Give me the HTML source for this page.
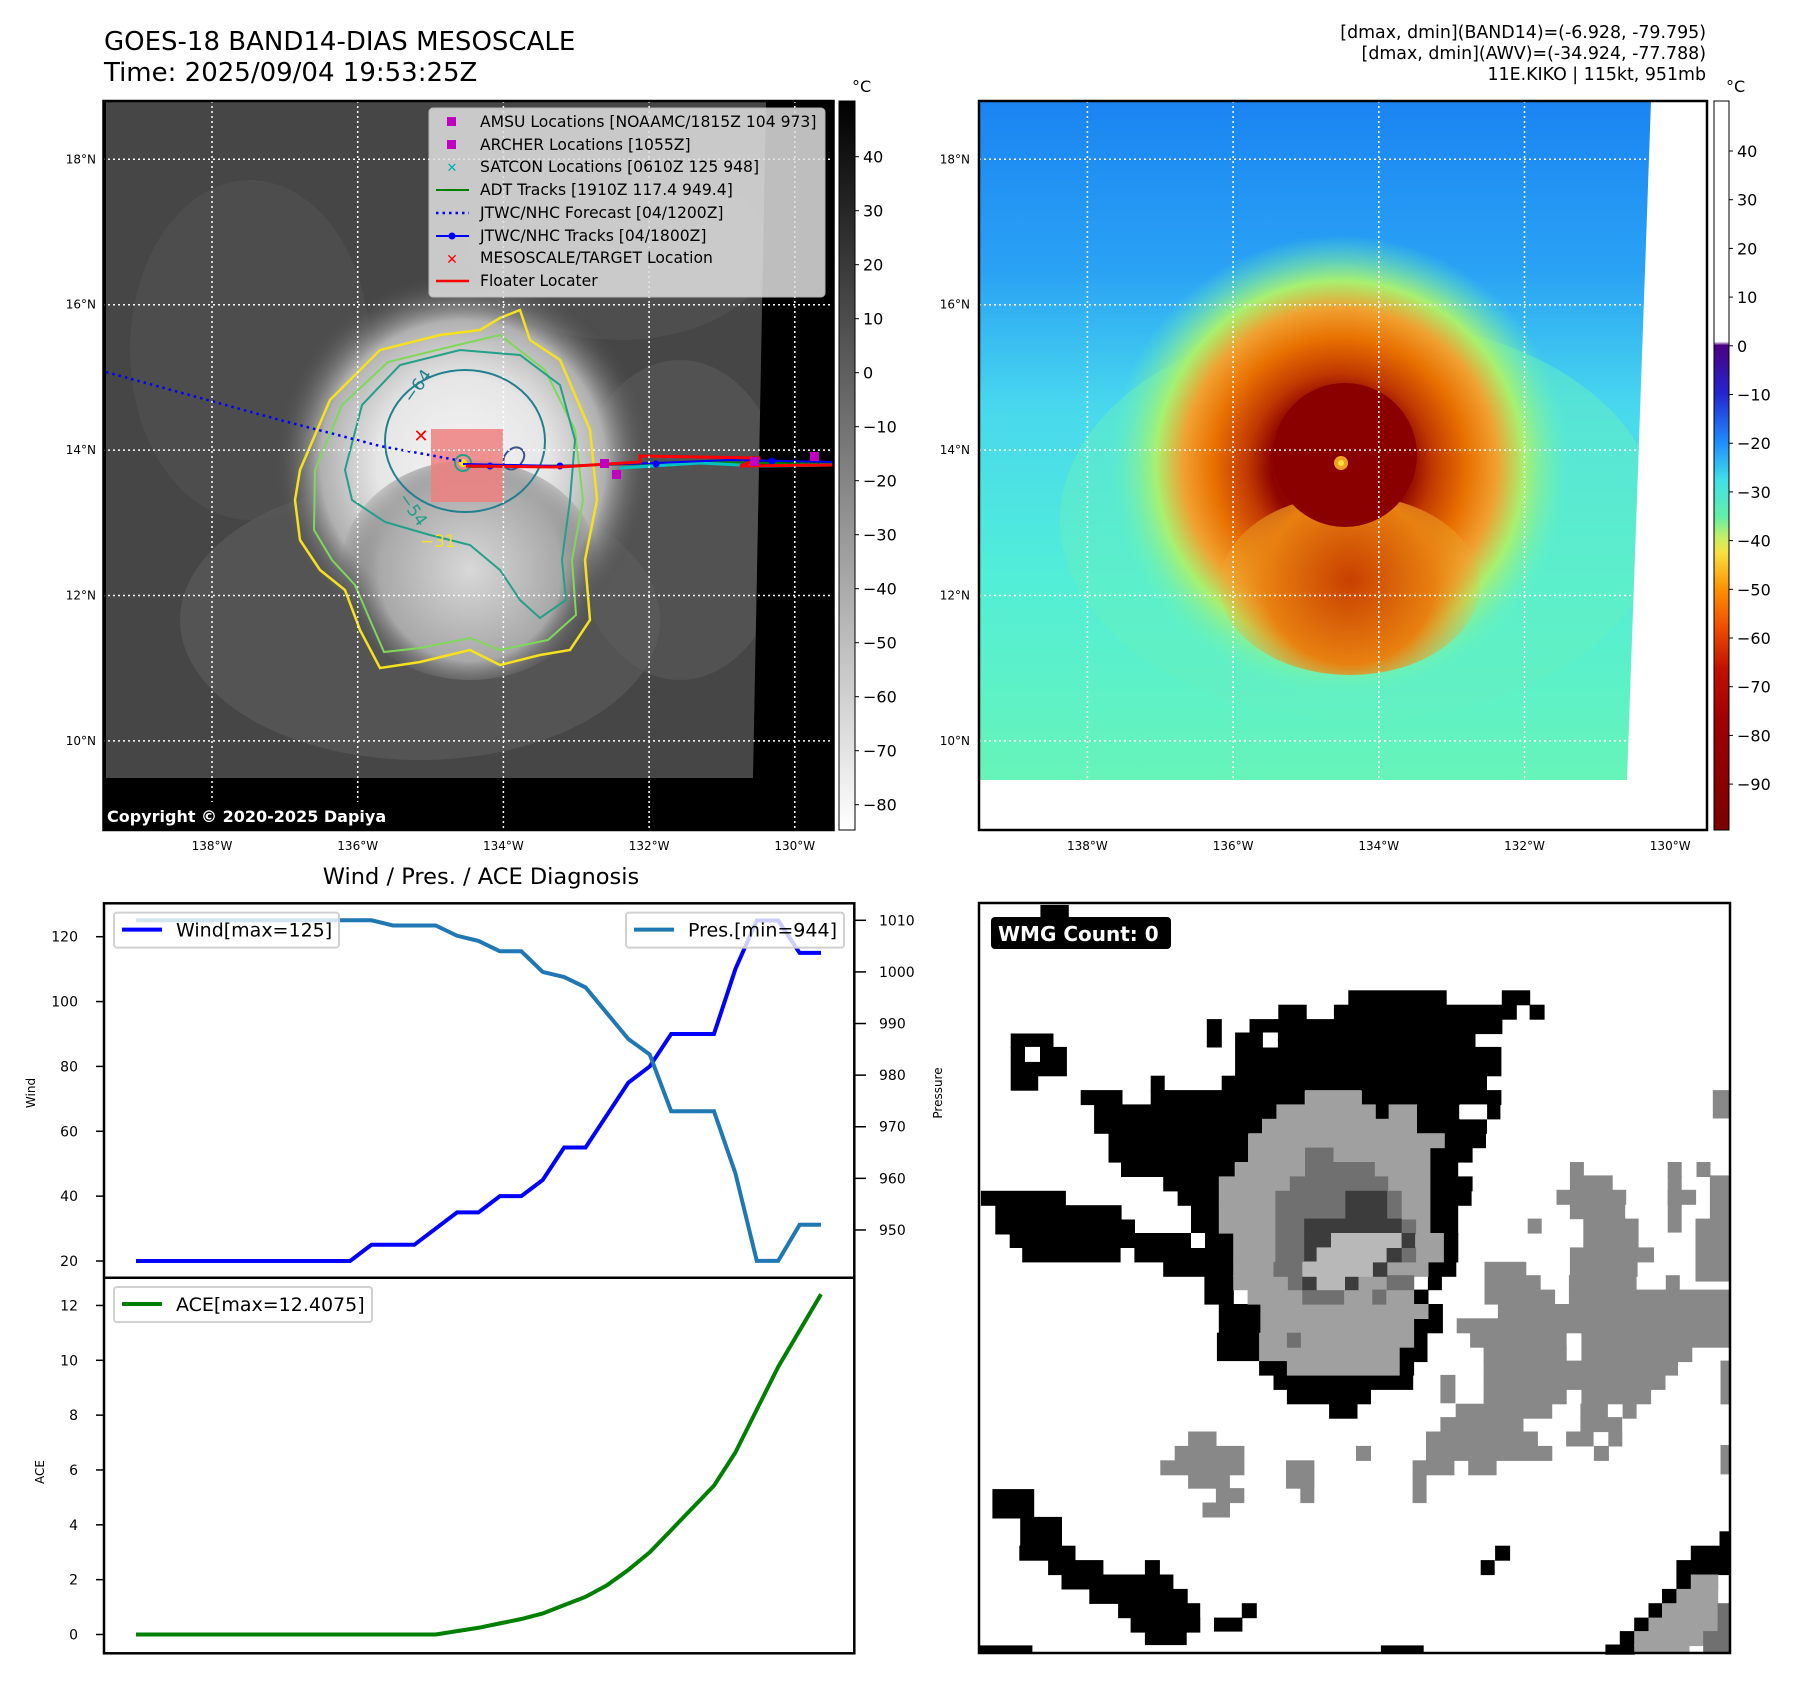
<!DOCTYPE html>
<html><head><meta charset="utf-8">
<style>
html,body{margin:0;padding:0;background:#fff;}
svg{display:block;font-family:"DejaVu Sans","Liberation Sans",sans-serif;}
</style></head>
<body>
<svg id="fig" width="1797" height="1690" viewBox="0 0 1797 1690" xmlns="http://www.w3.org/2000/svg">
<defs>
  <radialGradient id="stormGray" cx="463" cy="463" r="190" gradientUnits="userSpaceOnUse">
    <stop offset="0" stop-color="#f4f4f4"/>
    <stop offset="0.45" stop-color="#e6e6e6"/>
    <stop offset="0.75" stop-color="#b0b0b0"/>
    <stop offset="1" stop-color="#4a4a4a" stop-opacity="0"/>
  </radialGradient>
  <radialGradient id="stormGray2" cx="470" cy="570" r="130" gradientUnits="userSpaceOnUse">
    <stop offset="0" stop-color="#d8d8d8"/>
    <stop offset="0.7" stop-color="#a8a8a8"/>
    <stop offset="1" stop-color="#4a4a4a" stop-opacity="0"/>
  </radialGradient>
  <linearGradient id="skyBlue" x1="0" y1="101" x2="0" y2="780" gradientUnits="userSpaceOnUse">
    <stop offset="0" stop-color="#1a84f2"/>
    <stop offset="0.25" stop-color="#2aa2f4"/>
    <stop offset="0.45" stop-color="#48d8ee"/>
    <stop offset="0.7" stop-color="#52eed8"/>
    <stop offset="1" stop-color="#66f4b8"/>
  </linearGradient>
  <radialGradient id="stormColor" cx="1340" cy="465" r="230" gradientUnits="userSpaceOnUse">
    <stop offset="0" stop-color="#8a0000"/>
    <stop offset="0.3" stop-color="#8e0400"/>
    <stop offset="0.4" stop-color="#c03800"/>
    <stop offset="0.55" stop-color="#e87000"/>
    <stop offset="0.68" stop-color="#f0a030"/>
    <stop offset="0.8" stop-color="#a8f070"/>
    <stop offset="1" stop-color="#66f4b8" stop-opacity="0"/>
  </radialGradient>
  <radialGradient id="stormColor2" cx="1350" cy="580" r="140" gradientUnits="userSpaceOnUse">
    <stop offset="0" stop-color="#c84000"/>
    <stop offset="0.6" stop-color="#e88010"/>
    <stop offset="1" stop-color="#f0c040" stop-opacity="0"/>
  </radialGradient>
  <linearGradient id="cbGray" x1="0" y1="101" x2="0" y2="830" gradientUnits="userSpaceOnUse">
    <stop offset="0" stop-color="#000"/>
    <stop offset="1" stop-color="#fff"/>
  </linearGradient>
  <linearGradient id="cbColor" x1="0" y1="101" x2="0" y2="830" gradientUnits="userSpaceOnUse">
    <stop offset="0" stop-color="#ffffff"/>
    <stop offset="0.33" stop-color="#ffffff"/>
    <stop offset="0.335" stop-color="#4b0082"/>
    <stop offset="0.40" stop-color="#2424d0"/>
    <stop offset="0.47" stop-color="#1e90ff"/>
    <stop offset="0.52" stop-color="#40e0e8"/>
    <stop offset="0.57" stop-color="#60f0a8"/>
    <stop offset="0.60" stop-color="#c8f060"/>
    <stop offset="0.62" stop-color="#f8e040"/>
    <stop offset="0.67" stop-color="#ff9000"/>
    <stop offset="0.72" stop-color="#f05000"/>
    <stop offset="0.78" stop-color="#c01000"/>
    <stop offset="0.85" stop-color="#a00000"/>
    <stop offset="1" stop-color="#7a0000"/>
  </linearGradient>
  <clipPath id="clipL"><polygon points="106,101 766,101 753,778 106,778"/></clipPath>
  <clipPath id="clipR"><polygon points="979,101 1651,101 1627,780 979,780"/></clipPath>
</defs>

<text x="104" y="50" font-size="26" fill="#000">GOES-18 BAND14-DIAS MESOSCALE</text>
<text x="104" y="81" font-size="26" fill="#000">Time: 2025/09/04 19:53:25Z</text>
<g font-size="17.4" text-anchor="end" fill="#000">
  <text x="1706" y="38">[dmax, dmin](BAND14)=(-6.928, -79.795)</text>
  <text x="1706" y="59">[dmax, dmin](AWV)=(-34.924, -77.788)</text>
  <text x="1706" y="80">11E.KIKO | 115kt, 951mb</text>
</g>

<g>
  <rect x="103" y="101" width="730" height="729" fill="#000"/>
  <g clip-path="url(#clipL)">
    <rect x="100" y="100" width="700" height="700" fill="#464646"/>
    <ellipse cx="250" cy="350" rx="120" ry="170" fill="#525252" opacity="0.6"/>
    <ellipse cx="620" cy="250" rx="150" ry="90" fill="#555" opacity="0.5"/>
    <ellipse cx="420" cy="620" rx="240" ry="140" fill="#5e5e5e" opacity="0.6"/>
    <ellipse cx="680" cy="520" rx="110" ry="160" fill="#5e5e5e" opacity="0.5"/>
    <circle cx="463" cy="463" r="190" fill="url(#stormGray)"/>
    <ellipse cx="470" cy="570" rx="130" ry="110" fill="url(#stormGray2)"/>
  </g>
  <polygon points="300,470 330,400 380,350 440,335 480,330 500,318 520,310 530,340 560,360 590,430 597,500 585,560 590,620 570,650 540,655 500,665 470,650 420,662 380,668 360,630 345,590 320,570 300,540 295,500" fill="none" stroke="#f5e11e" stroke-width="2.5"/>
  <polygon points="315,470 342,405 388,362 445,348 500,335 545,370 575,430 583,500 572,560 576,615 548,640 500,650 470,638 420,648 384,652 370,620 355,585 332,560 314,530" fill="none" stroke="#7ed957" stroke-width="2"/>
  <polygon points="345,470 362,405 400,365 460,350 520,355 560,385 575,440 570,500 562,560 566,600 540,618 520,600 500,570 470,545 430,535 385,522 352,500" fill="none" stroke="#22a088" stroke-width="2"/>
  <ellipse cx="465" cy="441" rx="80" ry="71" fill="none" stroke="#21808e" stroke-width="2"/>
  <path d="M505,455 C515,440 530,450 522,462 C515,475 498,470 505,455 Z" fill="none" stroke="#3b528b" stroke-width="2"/>
  <text x="412" y="404" font-size="17" fill="#21808e" transform="rotate(-55 412 404)">−64</text>
  <text x="398" y="498" font-size="17" fill="#22a088" transform="rotate(55 398 498)">−54</text>
  <text x="420" y="547" font-size="17" fill="#f5e11e">−31</text>
  <rect x="431" y="429" width="72" height="73" fill="#f08080" opacity="0.85"/>
  <circle cx="463" cy="463" r="8" fill="none" stroke="#22a088" stroke-width="2"/>
  <circle cx="463" cy="463" r="4" fill="#f5e11e"/>
  <polyline points="106,372 280,420 380,446 462,461" fill="none" stroke="#0000ff" stroke-width="2.5" stroke-dasharray="2.5,4"/>
  <polyline points="470,467 600,465 700,462 833,464" fill="none" stroke="#008000" stroke-width="2"/>
  <polyline points="620,468 700,463 760,466 833,465" fill="none" stroke="#00c0c0" stroke-width="3"/>
  <polyline points="463,464 560,466 656,463 730,460 833,462" fill="none" stroke="#0000ff" stroke-width="2"/>
  <circle cx="490" cy="466" r="3.5" fill="#0000ff"/><circle cx="560" cy="466" r="3.5" fill="#0000ff"/><circle cx="656" cy="464" r="3.5" fill="#0000ff"/><circle cx="772" cy="461" r="3.5" fill="#0000ff"/>
  <polyline points="466,466 560,467 640,462 640,456 760,458 740,466 833,465" fill="none" stroke="#ff0000" stroke-width="3"/>
  <rect x="600" y="459" width="9" height="9" fill="#c000c0"/><rect x="612" y="470" width="9" height="9" fill="#c000c0"/><rect x="750" y="457" width="9" height="9" fill="#c000c0"/><rect x="810" y="452" width="9" height="9" fill="#c000c0"/>
  <text x="421" y="442" font-size="18" font-weight="bold" fill="#ff0000" text-anchor="middle">✕</text>
  <g id="gridL" stroke="#fff" stroke-width="1.5" stroke-dasharray="2,3"></g>
  <rect x="103" y="802" width="310" height="28" rx="4" fill="#000"/>
  <text x="107" y="822" font-size="16" font-weight="bold" fill="#fff">Copyright © 2020-2025 Dapiya</text>
  <g font-size="15.6">
    <rect x="429" y="108" width="396" height="189" rx="4" fill="#e0e0e0" opacity="0.85" stroke="#ccc"/>
    <rect x="447" y="117" width="9" height="9" fill="#c000c0"/>
    <text x="480" y="127">AMSU Locations [NOAAMC/1815Z 104 973]</text>
    <rect x="447" y="140" width="9" height="9" fill="#c000c0"/>
    <text x="480" y="150">ARCHER Locations [1055Z]</text>
    <text x="452" y="172" font-size="13" fill="#00b0b0" text-anchor="middle" font-weight="bold">✕</text>
    <text x="480" y="172">SATCON Locations [0610Z 125 948]</text>
    <line x1="436" y1="190" x2="469" y2="190" stroke="#008000" stroke-width="2"/>
    <text x="480" y="195">ADT Tracks [1910Z 117.4 949.4]</text>
    <line x1="436" y1="213" x2="469" y2="213" stroke="#0000ff" stroke-width="2.5" stroke-dasharray="2.5,4"/>
    <text x="480" y="218">JTWC/NHC Forecast [04/1200Z]</text>
    <line x1="436" y1="236" x2="469" y2="236" stroke="#0000ff" stroke-width="2"/><circle cx="452" cy="236" r="3.5" fill="#0000ff"/>
    <text x="480" y="241">JTWC/NHC Tracks [04/1800Z]</text>
    <text x="452" y="264" font-size="14" fill="#ff0000" text-anchor="middle" font-weight="bold">✕</text>
    <text x="480" y="263">MESOSCALE/TARGET Location</text>
    <line x1="436" y1="281" x2="469" y2="281" stroke="#ff0000" stroke-width="2.5"/>
    <text x="480" y="286">Floater Locater</text>
  </g>
  <rect x="103.5" y="101" width="730" height="729" fill="none" stroke="#000" stroke-width="2.5"/>
</g>

<g>
  <rect x="839" y="101" width="16" height="729" fill="url(#cbGray)" stroke="#000" stroke-width="1"/>
  <text x="852" y="92" font-size="16">°C</text>
  <g id="cbLTicks" font-size="16"></g>
</g>

<g>
  <rect x="979" y="101" width="728" height="729" fill="#fff"/>
  <g clip-path="url(#clipR)">
    <rect x="979" y="101" width="680" height="690" fill="url(#skyBlue)"/>
    <ellipse cx="1360" cy="520" rx="300" ry="200" fill="#66f0c0" opacity="0.5"/>
    <circle cx="1340" cy="465" r="230" fill="url(#stormColor)"/>
    <ellipse cx="1350" cy="585" rx="130" ry="90" fill="url(#stormColor2)"/>
    <circle cx="1345" cy="455" r="72" fill="#8a0000"/>
    <circle cx="1341" cy="463" r="7" fill="#f0a020"/>
    <circle cx="1341" cy="463" r="3" fill="#f8e040"/>
  </g>
  <g id="gridR" stroke="#fff" stroke-width="1.5" stroke-dasharray="2,3"></g>
  <rect x="979" y="101" width="728" height="729" fill="none" stroke="#000" stroke-width="2.5"/>
</g>
<g>
  <rect x="1714" y="101" width="15" height="729" fill="url(#cbColor)" stroke="#000" stroke-width="1"/>
  <text x="1726" y="92" font-size="16">°C</text>
  <g id="cbRTicks" font-size="16"></g>
</g>
<g id="mapLabels" font-size="12" fill="#000"></g>

<text x="481" y="884" font-size="22.5" text-anchor="middle">Wind / Pres. / ACE Diagnosis</text>
<g id="tsChart"></g>

<g>
  <rect x="979" y="903" width="751" height="750" fill="#fff"/>
  <g id="wmgCells"></g>
  <rect x="979" y="903" width="751" height="750" fill="none" stroke="#000" stroke-width="2.5"/>
  <rect x="991" y="917" width="180" height="32" rx="4" fill="#000"/>
  <text x="998" y="941" font-size="20" font-weight="bold" fill="#fff">WMG Count: 0</text>
</g>

<script>
const windValues = [20,20,20,20,20,20,20,20,20,20,20,25,25,25,30,35,35,40,40,45,55,55,65,75,80,90,90,90,110,125,125,115,115];
const presValues = [1010,1010,1010,1010,1010,1010,1010,1010,1010,1010,1010,1010,1009,1009,1009,1007,1006,1004,1004,1000,999,997,992,987,984,973,973,973,961,944,944,951,951];
const aceValues = [0,0,0,0,0,0,0,0,0,0,0,0,0,0,0,0.1225,0.245,0.405,0.565,0.7675,1.07,1.3725,1.795,2.3575,2.9975,3.8075,4.6175,5.4275,6.6375,8.2,9.7625,11.085,12.4075];
const windTicks = [20,40,60,80,100,120];
const presTicks = [950,960,970,980,990,1000,1010];
const aceTicks = [0,2,4,6,8,10,12];
const lonTicks = [138,136,134,132,130];
const latTicks = [18,16,14,12,10];
const cbLTicks = [40,30,20,10,0,-10,-20,-30,-40,-50,-60,-70,-80];
const cbRTicks = [40,30,20,10,0,-10,-20,-30,-40,-50,-60,-70,-80,-90];

const NS = "http://www.w3.org/2000/svg";
function mk(tag, attrs, parent){ const e=document.createElementNS(NS,tag); for(const k in attrs) e.setAttribute(k,attrs[k]); parent.appendChild(e); return e; }

const xIdx = i => 136 + i*(821-136)/(windValues.length-1);
const yWind = w => 1261 - (w-20)*3.243;
const yPres = p => 920.3 + (1010-p)*5.161;
const yAce = a => 1634.5 - a*27.42;
const xLon = (lon, off) => 212 + (138-lon)*72.85 + off;
const yLat = lat => 159.3 + (18-lat)*72.7;
const yCbL = v => 156.7 + (40-v)*5.4;
const yCbR = v => 151 + (40-v)*4.87;

[["gridL",0,103,833],["gridR",875.4,979,1707]].forEach(([id,off,x0,x1])=>{
  const g=document.getElementById(id);
  lonTicks.forEach(l=>{ const ln=mk("line",{x1:xLon(l,off),x2:xLon(l,off),y1:101,y2:830},g);
      });
  latTicks.forEach(l=>{ const ln=mk("line",{x1:x0,x2:x1,y1:yLat(l),y2:yLat(l)},g);
      });
});
const ml=document.getElementById("mapLabels");
[0,875.4].forEach(off=>{
  lonTicks.forEach(l=>{ const t=mk("text",{x:xLon(l,off),y:850,"text-anchor":"middle"},ml); t.textContent=l+"°W";
      });
  latTicks.forEach(l=>{ const t=mk("text",{x:(off?970:96),y:yLat(l)+4,"text-anchor":"end"},ml); t.textContent=l+"°N";
      });
});
const gl=document.getElementById("cbLTicks");
cbLTicks.forEach(v=>{ mk("line",{x1:855,x2:859,y1:yCbL(v),y2:yCbL(v),stroke:"#000"},gl);
  const t=mk("text",{x:863,y:yCbL(v)+6},gl); t.textContent=(v<0?"−"+(-v):v);
    });
const gr=document.getElementById("cbRTicks");
cbRTicks.forEach(v=>{ mk("line",{x1:1729,x2:1733,y1:yCbR(v),y2:yCbR(v),stroke:"#000"},gr);
  const t=mk("text",{x:1737,y:yCbR(v)+6},gr); t.textContent=(v<0?"−"+(-v):v);
    });

const ts=document.getElementById("tsChart");
mk("rect",{x:104,y:903.3,width:750.3,height:750,fill:"#fff"},ts);
windTicks.forEach(v=>{ mk("line",{x1:96,x2:104,y1:yWind(v),y2:yWind(v),stroke:"#000","stroke-width":1.5},ts);
  const t=mk("text",{x:78,y:yWind(v)+5,"font-size":14,"text-anchor":"end"},ts); t.textContent=v;
    });
presTicks.forEach(v=>{ mk("line",{x1:854,x2:866,y1:yPres(v),y2:yPres(v),stroke:"#000","stroke-width":1.5},ts);
  const t=mk("text",{x:879,y:yPres(v)+5,"font-size":14},ts); t.textContent=v;
    });
aceTicks.forEach(v=>{ mk("line",{x1:96,x2:104,y1:yAce(v),y2:yAce(v),stroke:"#000","stroke-width":1.5},ts);
  const t=mk("text",{x:78,y:yAce(v)+5,"font-size":14,"text-anchor":"end"},ts); t.textContent=v;
    });
let yl=mk("text",{x:35,y:1093,"font-size":12,"text-anchor":"middle",transform:"rotate(-90 35 1093)"},ts); yl.textContent="Wind";
 
yl=mk("text",{x:44,y:1472,"font-size":12,"text-anchor":"middle",transform:"rotate(-90 44 1472)"},ts); yl.textContent="ACE";
 
yl=mk("text",{x:942,y:1093,"font-size":12,"text-anchor":"middle",transform:"rotate(-90 942 1093)"},ts); yl.textContent="Pressure";
 

let p=mk("polyline",{points:windValues.map((v,i)=>xIdx(i)+","+yWind(v)).join(" "),fill:"none",stroke:"#0000ff","stroke-width":4},ts);
 
p=mk("polyline",{points:presValues.map((v,i)=>xIdx(i)+","+yPres(v)).join(" "),fill:"none",stroke:"#1f77b4","stroke-width":4},ts);
 
p=mk("polyline",{points:aceValues.map((v,i)=>xIdx(i)+","+yAce(v)).join(" "),fill:"none",stroke:"#008000","stroke-width":4},ts);
 

function legend(x,y,w,color,label,name){
  const g=mk("g",{},ts);
   
  mk("rect",{x:x,y:y,width:w,height:35,rx:3,fill:"#fff","fill-opacity":0.8,stroke:"#d0d0d0","stroke-width":2},g);
  mk("line",{x1:x+8,x2:x+48,y1:y+17,y2:y+17,stroke:color,"stroke-width":4},g);
  const t=mk("text",{x:x+62,y:y+24,"font-size":19},g); t.textContent=label;
}
legend(114,912.6,225,"#0000ff","Wind[max=125]","wind-legend");
legend(626,912.6,218,"#1f77b4","Pres.[min=944]","pressure-legend");
legend(114,1287,258,"#008000","ACE[max=12.4075]","ace-legend");
mk("rect",{x:104,y:903.3,width:750.3,height:750,fill:"none",stroke:"#000","stroke-width":2.5},ts);
mk("line",{x1:104,x2:854.3,y1:1277.7,y2:1277.7,stroke:"#000","stroke-width":2.5},ts);

const wmg=document.getElementById("wmgCells");
const S=1/2.085, OX=979, OY=903;
const cellSets = [
 ["#000", [[770,182,204,30],[1090,182,58,30],[1148,212,30,30],[624,212,58,30],[740,212,380,30],[475,242,30,58],[564,242,526,30],[534,270,500,30],[534,300,554,60],[506,360,552,30],[358,360,28,32],[212,390,86,30],[358,390,320,30],[798,390,290,30],[240,420,380,30],[826,420,28,30],[912,420,88,30],[1058,420,28,30],[240,450,350,30],[912,450,146,30],[270,480,290,60],[970,480,86,30],[940,510,88,30],[296,540,236,30],[940,540,58,30],[384,570,116,30],[940,570,88,30],[414,600,86,30],[940,600,86,30],[442,630,58,60],[940,630,58,60],[4,600,176,30],[34,630,262,30],[34,660,290,30],[64,688,378,30],[470,688,60,30],[968,688,30,60],[90,718,204,30],[324,718,206,30],[384,748,146,30],[936,748,58,30],[470,776,60,60],[936,776,28,30],[906,806,30,30],[500,836,86,60],[936,836,30,30],[906,866,60,30],[496,896,88,58],[906,896,28,30],[876,926,58,30],[584,954,58,30],[876,954,30,30],[614,984,290,30],[642,1012,174,32],[730,1044,58,30],[66,272,88,30],[66,300,116,60],[66,360,56,30],[128,4,58,26],[28,1222,86,60],[86,1280,86,60],[84,1340,116,30],[144,1370,114,30],[346,1370,30,30],[172,1400,232,30],[230,1430,204,30],[290,1460,170,30],[316,1490,144,30],[346,1518,86,28],[548,1460,30,30],[490,1490,58,28],[0,1548,110,16],[838,1548,88,16],[1076,1340,30,30],[1046,1370,28,30],[1544,1310,20,30],[1484,1340,80,30],[1454,1370,110,30],[1454,1400,30,30],[1424,1430,30,30],[1396,1460,30,30],[1366,1490,56,30],[1336,1518,56,30],[1306,1546,60,20]]],
 ["#fff", [[96,300,30,30],[592,270,30,30],[1002,420,56,30],[442,688,28,30]]],
 ["#a0a0a0", [[680,390,116,30],[620,420,206,30],[854,420,58,30],[590,450,322,30],[562,480,408,30],[562,510,378,30],[534,540,406,30],[500,570,440,60],[500,630,440,58],[530,688,438,60],[530,748,406,30],[530,776,376,30],[560,806,346,30],[588,836,348,30],[588,866,318,30],[584,896,322,30],[584,926,292,28],[642,954,234,30],[1484,1400,56,30],[1454,1430,86,30],[1424,1460,116,30],[1396,1490,144,30],[1366,1518,144,30],[1366,1546,114,18]]],
 ["#707070", [[680,510,58,30],[680,540,144,30],[648,570,204,30],[618,600,262,60],[618,660,60,88],[614,748,60,30],[644,776,30,30],[674,806,86,30],[820,806,28,30],[850,776,56,30],[880,718,30,30],[880,660,30,30],[642,896,28,30],[1540,1460,24,104],[1510,1518,30,46]]],
 ["#3c3c3c", [[764,600,86,58],[678,658,202,30],[678,688,58,58],[880,688,28,30],[850,718,30,30],[820,748,30,30],[674,776,30,30],[762,776,28,30]]],
 ["#b8b8b8", [[734,688,146,30],[704,718,144,30],[674,748,146,30],[704,776,58,30]]],
 ["#888888", [[1530,390,34,58],[1232,540,28,30],[1436,540,28,30],[1496,540,28,30],[1232,568,88,30],[1436,568,28,60],[1524,568,40,90],[1204,598,144,30],[1436,598,58,30],[1232,628,114,30],[1436,628,28,58],[1144,658,28,30],[1260,658,114,60],[1494,658,70,130],[1232,718,174,30],[1054,748,86,30],[1232,748,140,30],[1054,776,116,30],[1230,776,140,30],[1432,776,28,30],[1054,806,146,30],[1230,806,334,30],[1082,836,482,30],[996,866,568,30],[1024,896,200,30],[1256,896,308,30],[1052,926,172,30],[1256,926,230,30],[1052,954,404,30],[962,984,30,58],[1052,984,378,30],[1052,1014,172,30],[1256,1014,144,30],[994,1044,200,30],[1254,1044,56,30],[1342,1044,28,30],[962,1072,172,30],[1254,1072,86,30],[932,1102,232,30],[1224,1102,56,30],[1312,1102,28,30],[932,1132,262,30],[786,1132,30,30],[1282,1132,30,30],[904,1162,86,30],[1020,1162,58,30],[904,1190,28,60],[640,1162,58,58],[670,1220,28,30],[436,1102,58,30],[408,1132,144,30],[378,1162,174,30],[436,1190,86,30],[494,1220,58,30],[466,1250,56,30],[1546,954,18,90],[1546,1130,18,60]]]
];
cellSets.forEach(([col,list])=>{
  list.forEach(r=>{
    const e=mk("rect",{x:(OX+r[0]*S).toFixed(1),y:(OY+r[1]*S).toFixed(1),width:(r[2]*S+0.6).toFixed(1),height:(r[3]*S+0.6).toFixed(1),fill:col},wmg);
    
    
  });
});
</script>
</svg>
</body></html>
